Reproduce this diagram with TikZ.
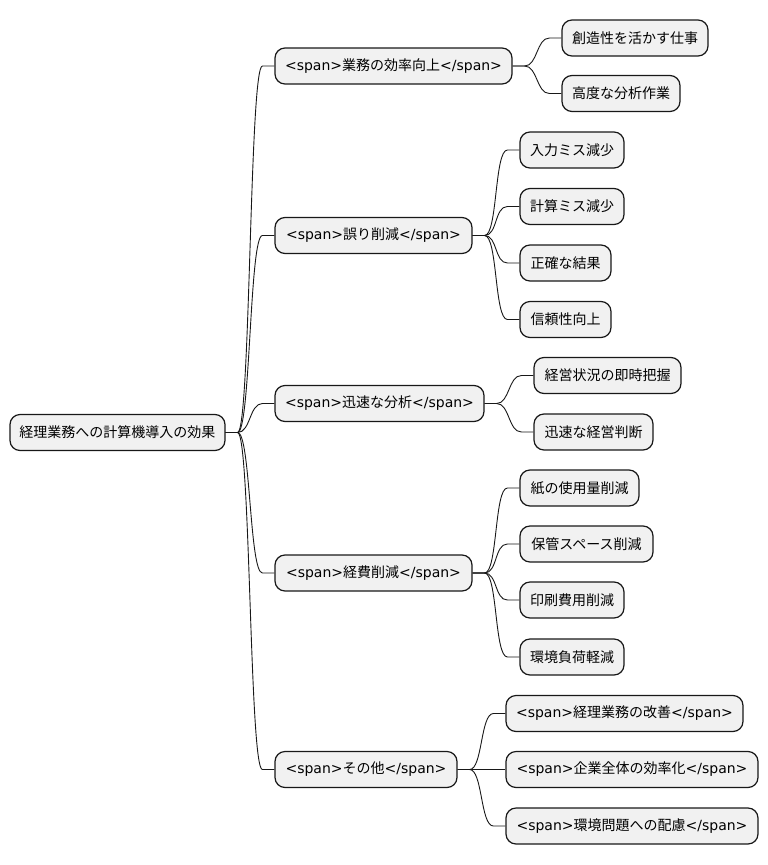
\documentclass[tikz,border=0pt]{standalone}
\usepackage{fontspec}
\setmainfont{DejaVu Sans}
\newfontfamily\cjk{Noto Sans CJK JP}
\usetikzlibrary{calc}
\definecolor{boxfill}{HTML}{F1F1F1}
\definecolor{boxline}{HTML}{181818}
\newcommand\mmconn[2]{\draw[conn] (#1.east) -- ++(12,0) .. controls +(13,0) and ($(#2.west)+(-25,0)$) .. ($(#2.west)+(-12,0)$) -- (#2.west);}
\begin{document}
\begin{tikzpicture}[x=1pt,y=-1pt,
  mm/.style={draw=boxline, fill=boxfill, line width=1.2pt, rounded corners=10pt,
    minimum height=36pt, inner xsep=0pt, inner ysep=0pt,
    font=\fontsize{14}{16}\selectfont, text=black},
  conn/.style={draw=boxline, line width=0.9pt}]
\useasboundingbox (0,0) rectangle (768,865);

% root
\node[mm, minimum width=215pt] (root) at (117.5,432.5) {{\cjk 経理業務への計算機導入の効果}};

% level 1
\node[mm, minimum width=237pt] (a) at (393.5,66) {<span>{\cjk 業務の効率向上}</span>};
\node[mm, minimum width=197pt] (b) at (373.5,235.5) {<span>{\cjk 誤り削減}</span>};
\node[mm, minimum width=209pt] (c) at (379.5,403.5) {<span>{\cjk 迅速な分析}</span>};
\node[mm, minimum width=197pt] (d) at (373.5,573) {<span>{\cjk 経費削減}</span>};
\node[mm, minimum width=182pt] (e) at (366,769.5) {<span>{\cjk その他}</span>};

% level 2
\node[mm, minimum width=146pt] (a1) at (635,38) {{\cjk 創造性を活かす仕事}};
\node[mm, minimum width=118pt] (a2) at (621,93.5) {{\cjk 高度な分析作業}};

\node[mm, minimum width=104pt] (b1) at (572,150) {{\cjk 入力ミス減少}};
\node[mm, minimum width=104pt] (b2) at (572,206.5) {{\cjk 計算ミス減少}};
\node[mm, minimum width=91pt] (b3) at (565.5,263) {{\cjk 正確な結果}};
\node[mm, minimum width=91pt] (b4) at (565.5,319.5) {{\cjk 信頼性向上}};

\node[mm, minimum width=147pt] (c1) at (607.5,375.5) {{\cjk 経営状況の即時把握}};
\node[mm, minimum width=119pt] (c2) at (593.5,432) {{\cjk 迅速な経営判断}};

\node[mm, minimum width=119pt] (d1) at (579.5,488) {{\cjk 紙の使用量削減}};
\node[mm, minimum width=133pt] (d2) at (586.5,544) {{\cjk 保管スペース削減}};
\node[mm, minimum width=104pt] (d3) at (572,600) {{\cjk 印刷費用削減}};
\node[mm, minimum width=104pt] (d4) at (572,657) {{\cjk 環境負荷軽減}};

\node[mm, minimum width=237pt] (e1) at (624.5,713.5) {<span>{\cjk 経理業務の改善}</span>};
\node[mm, minimum width=252pt] (e2) at (632,769.5) {<span>{\cjk 企業全体の効率化}</span>};
\node[mm, minimum width=252pt] (e3) at (632,826) {<span>{\cjk 環境問題への配慮}</span>};

% connectors
\foreach \c in {a,b,c,d,e} {\mmconn{root}{\c}}
\foreach \c in {a1,a2} {\mmconn{a}{\c}}
\foreach \c in {b1,b2,b3,b4} {\mmconn{b}{\c}}
\foreach \c in {c1,c2} {\mmconn{c}{\c}}
\foreach \c in {d1,d2,d3,d4} {\mmconn{d}{\c}}
\foreach \c in {e1,e2,e3} {\mmconn{e}{\c}}
\end{tikzpicture}
\end{document}
